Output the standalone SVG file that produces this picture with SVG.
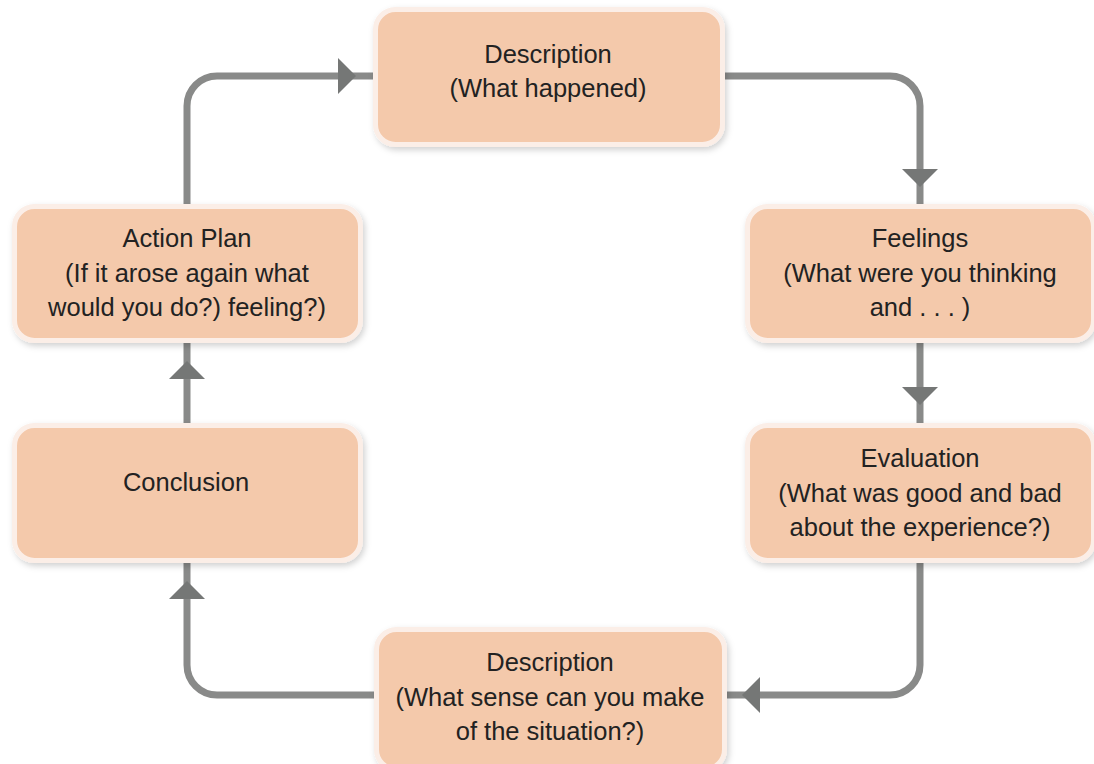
<svg xmlns="http://www.w3.org/2000/svg" width="1094" height="764" viewBox="0 0 1094 764">
<defs>
<filter id="sh" x="-10%" y="-10%" width="130%" height="140%">
<feDropShadow dx="2" dy="3" stdDeviation="3" flood-color="#000" flood-opacity="0.18"/>
</filter>
<style>
.box{fill:#f4c9ab;stroke:#fbeee7;stroke-width:5;filter:url(#sh)}
.t{font-family:"Liberation Sans",Arial,sans-serif;font-size:25.5px;fill:#222;text-anchor:middle}
.ln{fill:none;stroke:#898a89;stroke-width:7}
.ah{fill:#757776}
</style>
</defs>
<rect width="1094" height="764" fill="#fff"/>
<g id="connectors">
<path class="ln" d="M187,206 V106 A30,30 0 0 1 217,76 H375"/>
<polygon class="ah" points="338,58 356,76 338,94"/>
<path class="ln" d="M723,76 H890 A30,30 0 0 1 920,106 V206"/>
<polygon class="ah" points="902,169 938,169 920,187"/>
<path class="ln" d="M920,341 V425"/>
<polygon class="ah" points="902,387 938,387 920,405"/>
<path class="ln" d="M920,561 V665 A30,30 0 0 1 890,695 H725"/>
<polygon class="ah" points="760,677 760,713 742,695"/>
<path class="ln" d="M376,695 H217 A30,30 0 0 1 187,665 V561"/>
<polygon class="ah" points="169,599 205,599 187,581"/>
<path class="ln" d="M187,425 V341"/>
<polygon class="ah" points="169,379 205,379 187,361"/>
</g>
<g id="description-top">
<rect class="box" x="375.5" y="9.5" width="347" height="135" rx="20"/>
<text class="t" x="548" y="63">Description</text>
<text class="t" x="548" y="97">(What happened)</text>
</g>
<g id="feelings">
<rect class="box" x="747.5" y="206.5" width="346" height="134" rx="20"/>
<text class="t" x="920" y="247">Feelings</text>
<text class="t" x="920" y="282">(What were you thinking</text>
<text class="t" x="920" y="316">and . . . )</text>
</g>
<g id="evaluation">
<rect class="box" x="747.5" y="425.5" width="346" height="135" rx="20"/>
<text class="t" x="920" y="467">Evaluation</text>
<text class="t" x="920" y="502">(What was good and bad</text>
<text class="t" x="920" y="536">about the experience?)</text>
</g>
<g id="description-bottom">
<rect class="box" x="376.5" y="629.5" width="348" height="140" rx="20"/>
<text class="t" x="550" y="671">Description</text>
<text class="t" x="550" y="706">(What sense can you make</text>
<text class="t" x="550" y="740">of the situation?)</text>
</g>
<g id="conclusion">
<rect class="box" x="14.5" y="425.5" width="346" height="135" rx="20"/>
<text class="t" x="186" y="491">Conclusion</text>
</g>
<g id="action-plan">
<rect class="box" x="14.5" y="206.5" width="346" height="134" rx="20"/>
<text class="t" x="187" y="247">Action Plan</text>
<text class="t" x="187" y="282">(If it arose again what</text>
<text class="t" x="187" y="316">would you do?) feeling?)</text>
</g>
</svg>
